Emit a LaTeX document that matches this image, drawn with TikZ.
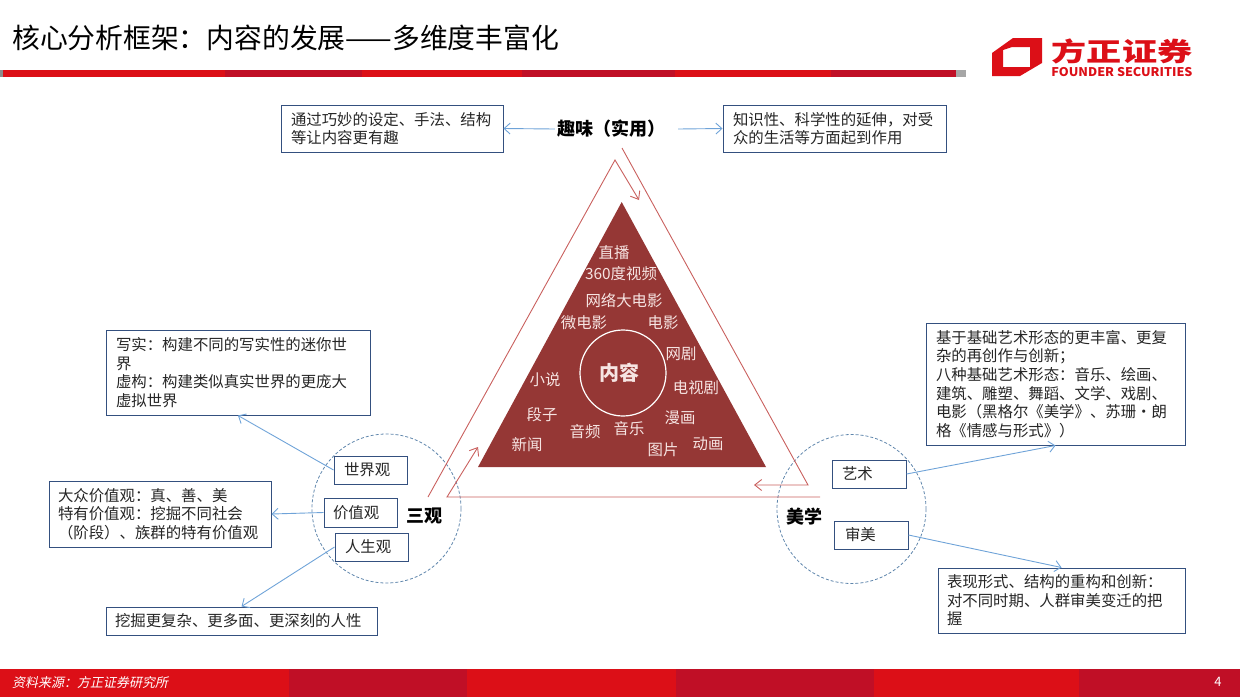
\documentclass[tikz,border=0pt]{standalone}
\usepackage{fontspec}
\setmainfont{Noto Sans CJK SC}
\newfontfamily\srcfont[FakeSlant=0.2]{Noto Sans CJK SC}
\newfontfamily\logofont[FakeStretch=1.35]{Noto Sans CJK SC}
\newfontfamily\logoenfont[FakeStretch=1.05]{Noto Sans CJK SC}
\usetikzlibrary{arrows.meta}
\newcommand{\fcolon}{\char"FF1A\relax}
\newcommand{\fcomma}{\char"FF0C\relax}
\newcommand{\fsemi}{\char"FF1B\relax}
\newcommand{\flpar}{\char"FF08\relax}
\newcommand{\frpar}{\char"FF09\relax}
\definecolor{barred}{HTML}{DC0F17}
\definecolor{bardark}{HTML}{C00F26}
\definecolor{coreRed}{HTML}{953735}
\definecolor{lineRed}{HTML}{C9605E}
\definecolor{boxBlue}{HTML}{34507F}
\definecolor{linkBlue}{HTML}{6FA3D8}
\definecolor{ringBlue}{HTML}{5F86AC}
\definecolor{coreText}{HTML}{F6E4E2}
\tikzset{
    txtbox/.style={draw=boxBlue, line width=1pt, fill=white, align=left, inner xsep=10pt, inner ysep=0pt,
        font=\fontsize{15.4pt}{18.6pt}\selectfont, text=black!85},
    link/.style={draw=linkBlue, line width=0.9pt, -{Straight Barb[length=6pt,width=11pt]}},
    redline/.style={draw=lineRed, line width=0.9pt},
    redarrow/.style={redline, -{Straight Barb[length=7pt,width=11pt]}},
    ring/.style={circle, draw=ringBlue, line width=0.8pt, dash pattern=on 3pt off 2pt, minimum size=149pt, inner sep=0pt},
    corelabel/.style={text=coreText, inner sep=0pt, font=\fontsize{15.4pt}{18pt}\selectfont},
    headlabel/.style={inner sep=2pt, font=\fontsize{18pt}{20pt}\selectfont\bfseries}
}
\begin{document}
\begin{tikzpicture}[x=1pt,y=-1pt]
    \useasboundingbox (0,0) rectangle (1240,697);
    % header
    \node[anchor=west, inner sep=0pt, font=\fontsize{27.8pt}{30pt}\selectfont] (title) at (12,38) {核心分析框架\fcolon 内容的发展——多维度丰富化};
    \fill[barred] (0,70) rectangle (956,77);
    \foreach \xa/\xb in {225/362,522/675,831/956}
        \fill[bardark] (\xa,70) rectangle (\xb,77);
    \fill[black!35] (956,70) rectangle (966,77);
    \fill[black!45] (0,70) rectangle (3,77);
    % logo
    \fill[barred, even odd rule] (992,53) -- (1013,38) -- (1042,38) -- (1042,63) -- (1020,76) -- (992,76) -- cycle
        (1003,50) -- (1012,47) -- (1030,47) -- (1030,67) -- (1003,67) -- cycle;
    \node[inner sep=0pt, text=barred, font=\fontsize{26pt}{28pt}\logofont\bfseries] (logoname) at (1122,51) {方正证券};
    \node[inner sep=0pt, text=barred, font=\fontsize{12pt}{12pt}\logoenfont\bfseries] (logoen) at (1122,72) {FOUNDER SECURITIES};
    % footer
    \fill[barred] (0,669) rectangle (1240,697);
    \foreach \xa/\xb in {289/467,676/874,1079/1240}
        \fill[bardark] (\xa,669) rectangle (\xb,697);
    \node[anchor=west, inner sep=0pt, text=white, font=\fontsize{13pt}{15pt}\srcfont] (source) at (12,683) {资料来源\fcolon 方正证券研究所};
    \node[inner sep=0pt, text=white, font=\fontsize{13pt}{15pt}\selectfont] (pageno) at (1218,682) {4};
    % rings
    \node[ring] (leftring) at (386.5,508.5) {};
    \node[ring] (rightring) at (851.5,509) {};
    % core triangle
    \coordinate (coreTop) at (621.7,202);
    \coordinate (coreLeft) at (478,467);
    \coordinate (coreRight) at (766,467);
    \fill[coreRed] (coreTop) -- (coreRight) -- (coreLeft) -- cycle;
    \node[circle, draw=white, line width=1.2pt, minimum size=86pt, inner sep=0pt] (corering) at (623,373) {};
    \node[text=coreText, inner sep=0pt, font=\fontsize{20pt}{22pt}\selectfont\bfseries] (core) at (619,373) {内容};
    \foreach \px/\py/\txt [count=\i] in {
        614/253/直播, 621/274/360度视频, 624/301/网络大电影, 584/323/微电影, 663/323/电影,
        681/354/网剧, 696/388/电视剧, 680/418/漫画, 708/444/动画, 663/450/图片,
        629/429/音乐, 585/432/音频, 527/445/新闻, 542/415/段子, 545/380/小说}
        \node[corelabel] (item\i) at (\px,\py) {\txt};
    % outer triangle
    \coordinate (sanStart) at (428,497);
    \coordinate (outerTop) at (615,160);
    \coordinate (topEnd) at (639,200);
    \coordinate (quStart) at (622,148);
    \coordinate (outerRight) at (808,485);
    \coordinate (rightEnd) at (754,485);
    \coordinate (meiStart) at (820,497);
    \coordinate (outerLeft) at (447,497);
    \coordinate (leftEnd) at (478,447);
    \draw[redarrow] (sanStart) -- (outerTop) -- (topEnd);
    \draw[redarrow] (quStart) -- (outerRight) -- (rightEnd);
    \draw[redarrow] (meiStart) -- (outerLeft) -- (leftEnd);
    % heads
    \node[headlabel] (qu) at (611,129) {趣味\flpar 实用\frpar};
    \node[headlabel] (san) at (424,516) {三观};
    \node[headlabel] (mei) at (804,517) {美学};
    % top boxes
    \node[txtbox, text width=202pt, minimum height=47pt] (trick) at (392,128.5) {通过巧妙的设定、手法、结构\\等让内容更有趣};
    \node[txtbox, text width=203pt, minimum height=47pt] (know) at (834.5,128.5) {知识性、科学性的延伸\fcomma 对受\\众的生活等方面起到作用};
    % left boxes
    \node[txtbox, text width=244pt, minimum height=85pt] (xieshi) at (238,372.5) {写实\fcolon 构建不同的写实性的迷你世\\界\\虚构\fcolon 构建类似真实世界的更庞大\\虚拟世界};
    \node[txtbox, inner xsep=9pt, text width=204pt, minimum height=66pt] (dazhong) at (160,514) {大众价值观\fcolon 真、善、美\\特有价值观\fcolon 挖掘不同社会\\\flpar 阶段\frpar 、族群的特有价值观};
    \node[txtbox, inner xsep=9pt, text width=253pt, minimum height=28pt] (renxing) at (241.5,621) {挖掘更复杂、更多面、更深刻的人性};
    \node[txtbox, text width=53pt, minimum height=28pt] (world) at (370.5,470) {世界观};
    \node[txtbox, inner xsep=9pt, text width=55pt, minimum height=29pt] (value) at (360.5,512.5) {价值观};
    \node[txtbox, text width=53pt, minimum height=28pt] (life) at (371.5,547) {人生观};
    % right boxes
    \node[txtbox, text width=239pt, minimum height=122pt] (art) at (1055.5,384) {基于基础艺术形态的更丰富、更复\\杂的再创作与创新\fsemi\\八种基础艺术形态\fcolon 音乐、绘画、\\建筑、雕塑、舞蹈、文学、戏剧、\\电影\flpar 黑格尔《美学》、苏珊·朗\\格《情感与形式》\frpar};
    \node[txtbox, inner xsep=9pt, text width=229pt, minimum height=65pt] (form) at (1061.5,600.5) {表现形式、结构的重构和创新\fcolon\\对不同时期、人群审美变迁的把\\握};
    \node[txtbox, text width=54pt, minimum height=28pt] (yishu) at (869,474) {艺术};
    \node[txtbox, inner xsep=11pt, text width=52pt, minimum height=28pt] (shenmei) at (871,535) {审美};
    % links
    \draw[link] (qu.west) -- (trick.east);
    \draw[link] ([xshift=11pt]qu.east) -- (know.west);
    \draw[link] (world.west) -- (xieshi.south);
    \draw[link] (value.west) -- (dazhong.east);
    \draw[link] (life.west) -- (renxing.north);
    \draw[link] (yishu.east) -- (art.south);
    \draw[link] (shenmei.east) -- (form.north);
\end{tikzpicture}
\end{document}
